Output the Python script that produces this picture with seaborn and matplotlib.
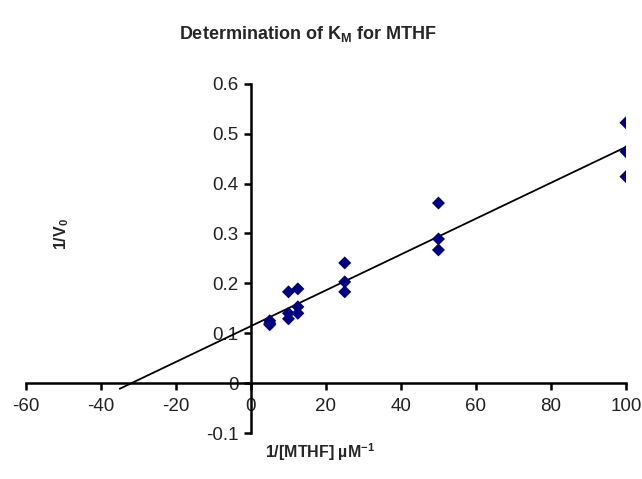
import matplotlib
matplotlib.use("Agg")
import matplotlib.pyplot as plt
from matplotlib.ticker import FuncFormatter
import numpy as np
import pandas as pd
import seaborn as sns

# 1/[MTHF] (uM^-1), three replicates each
inv_s = [5, 5, 5, 10, 10, 10, 12.5, 12.5, 12.5, 25, 25, 25,
         50, 50, 50, 100, 100, 100]
# 1/V0
inv_v = [0.125, 0.12, 0.117, 0.183, 0.14, 0.129, 0.189, 0.153, 0.14,
         0.241, 0.203, 0.183, 0.361, 0.289, 0.267, 0.522, 0.464, 0.414]
trend_range = [-35, 100]

x_ticks = [-60, -40, -20, 0, 20, 40, 60, 80, 100]
y_ticks = [-0.1, 0, 0.1, 0.2, 0.3, 0.4, 0.5, 0.6]


def main():
    sns.set_style("white")
    plt.rcParams["font.family"] = ["Liberation Sans", "DejaVu Sans"]
    plt.rcParams["axes.unicode_minus"] = False
    plt.rcParams["mathtext.fontset"] = "custom"
    plt.rcParams["mathtext.rm"] = "Liberation Sans"
    plt.rcParams["mathtext.bf"] = "Liberation Sans:bold"

    df = pd.DataFrame({"inv_s": inv_s, "inv_v": inv_v})

    fig = plt.figure(figsize=(6.42, 4.79), dpi=100)
    ax = fig.add_axes([0.0405, 0.096, 0.9345, 0.729])

    slope, icept = np.polyfit(df["inv_s"], df["inv_v"], 1)
    tx = np.array(trend_range, dtype=float)
    sns.lineplot(x=tx, y=slope * tx + icept, color="black", lw=1.3, ax=ax)

    sns.scatterplot(df, x="inv_s", y="inv_v", marker="D", s=44,
                    color="#000080", edgecolor="none", zorder=3, ax=ax)

    ax.set_xlim(x_ticks[0], x_ticks[-1])
    ax.set_ylim(y_ticks[0], y_ticks[-1])
    ax.set_xticks(x_ticks)
    ax.set_yticks(y_ticks)
    ax.yaxis.set_major_formatter(FuncFormatter(lambda v, p: "%g" % round(v, 2)))

    for side in ["top", "right"]:
        ax.spines[side].set_visible(False)
    ax.spines["left"].set_position(("data", 0))
    ax.spines["bottom"].set_position(("data", 0))
    for side in ["left", "bottom"]:
        ax.spines[side].set_linewidth(1.8)
        ax.spines[side].set_color("black")
    ax.tick_params(axis="both", direction="out", length=5, width=1.8,
                   labelsize=13.5, colors="black", labelcolor="#222222")
    ax.tick_params(axis="x", bottom=True, pad=6)
    ax.tick_params(axis="y", left=True, pad=4)

    ax.set_xlabel("1/[MTHF] µM$^{\\mathbf{-1}}$", fontsize=11.5,
                  fontweight="bold")
    ax.xaxis.set_label_coords(0.49, -0.025)
    ax.set_ylabel("1/V$_\\mathbf{0}$", fontsize=11.5, fontweight="bold")
    ax.yaxis.set_label_coords(0.075, 0.57)

    fig.text(0.48, 0.93, "Determination of K$_\\mathbf{M}$ for MTHF",
             ha="center", va="center", fontsize=13, fontweight="bold")

    fig.savefig("out.png", dpi=100)


if __name__ == "__main__":
    main()
